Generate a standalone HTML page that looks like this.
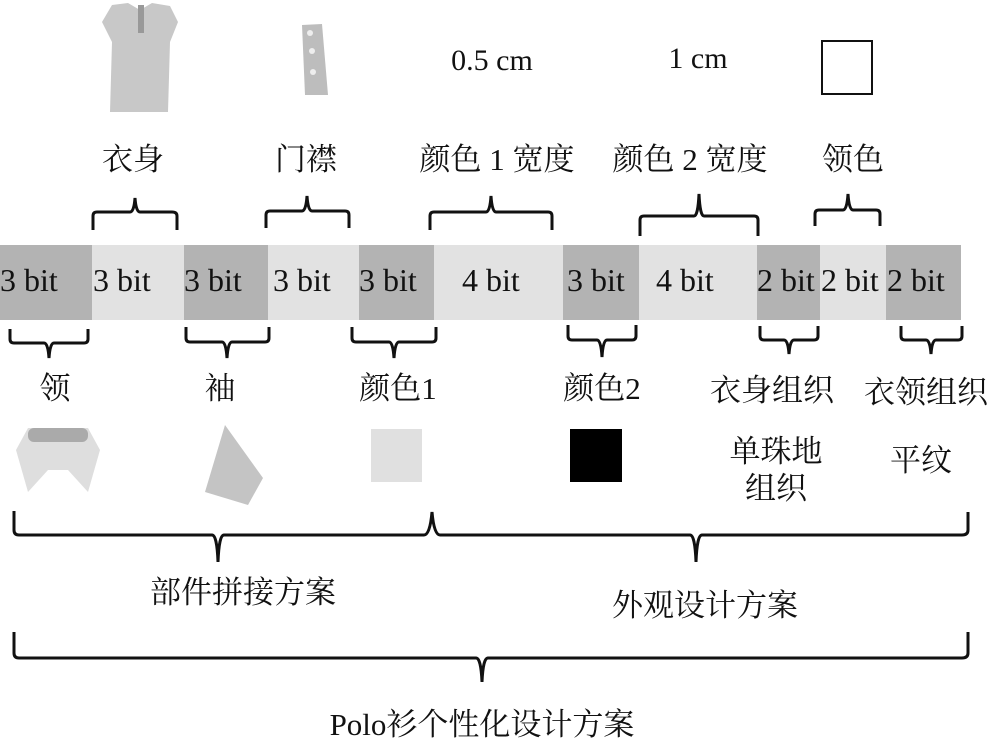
<!DOCTYPE html>
<html><head><meta charset="utf-8"><style>
body{margin:0;background:#fff;}
svg{display:block;}
.s{font-family:"Liberation Serif","Noto Serif CJK SC",serif;fill:#111;}
.c{font-family:"Liberation Serif","Noto Serif CJK SC",serif;fill:#111;}
</style></head><body>
<svg width="1000" height="755" viewBox="0 0 1000 755" xmlns="http://www.w3.org/2000/svg">
<!-- shirt -->
<path d="M112,5 L128,3 L140,10 L152,3 L170,6 L178,22 L170,42 L168,112 L110,112 L112,42 L102,22 Z" fill="#c8c8c8"/>
<rect x="138" y="5" width="6" height="28" fill="#999"/>
<!-- placket -->
<path d="M302,25 L322,24 L328,95 L305,95 Z" fill="#bdbdbd"/>
<circle cx="310" cy="33" r="3" fill="#eee"/><circle cx="312" cy="51" r="3" fill="#eee"/><circle cx="313" cy="72" r="3" fill="#eee"/>
<text x="492" y="70" class="s" font-size="30" text-anchor="middle">0.5 cm</text>
<text x="698" y="68" class="s" font-size="30" text-anchor="middle">1 cm</text>
<rect x="822" y="41" width="50" height="53" fill="#fff" stroke="#111" stroke-width="2"/>
<g class="c" font-size="31" text-anchor="middle">
<text x="133" y="170">衣身</text>
<text x="306" y="170">门襟</text>
<text x="497" y="170">颜色 1 宽度</text>
<text x="690" y="170">颜色 2 宽度</text>
<text x="853" y="170">领色</text>
</g>
<!-- top braces -->
<g fill="none" stroke="#111" stroke-width="3">
<path d="M93,230 V216 Q93,212 97,212 H130 Q134,212 135,198 Q136,212 140,212 H172 Q177,212 177,216 V230"/>
<path d="M266,228 V215 Q266,211 270,211 H302 Q306,211 307,196 Q308,211 312,211 H345 Q349,211 349,215 V228"/>
<path d="M430,230 V216 Q430,212 434,212 H486 Q490,212 491,196 Q492,212 496,212 H548 Q552,212 552,216 V230"/>
<path d="M640,236 V220 Q640,216 644,216 H694 Q698,216 699,194 Q700,216 704,216 H754 Q758,216 758,220 V236"/>
<path d="M815,226 V214 Q815,210 819,210 H843 Q847,210 848,194 Q849,210 853,210 H876 Q880,210 880,214 V226"/>
</g>
<!-- bar -->
<rect x="0" y="245" width="961" height="75" fill="#e2e2e2"/>
<g fill="#b3b3b3">
<rect x="0" y="245" width="92" height="75"/>
<rect x="184" y="245" width="84" height="75"/>
<rect x="359" y="245" width="75" height="75"/>
<rect x="563" y="245" width="76" height="75"/>
<rect x="757" y="245" width="63" height="75"/>
<rect x="886" y="245" width="75" height="75"/>
</g>
<g class="s" font-size="32">
<text x="0" y="291">3 bit</text><text x="93" y="291">3 bit</text><text x="184" y="291">3 bit</text>
<text x="273" y="291">3 bit</text><text x="359" y="291">3 bit</text><text x="462" y="291">4 bit</text>
<text x="567" y="291">3 bit</text><text x="656" y="291">4 bit</text><text x="757" y="291">2 bit</text>
<text x="821" y="291">2 bit</text><text x="887" y="291">2 bit</text>
</g>
<!-- bottom braces -->
<g fill="none" stroke="#111" stroke-width="3">
<path d="M10,329 V339 Q10,343 14,343 H44 Q48,343 49,358 Q50,343 54,343 H84 Q88,343 88,339 V329"/>
<path d="M186,327 V338 Q186,342 190,342 H222 Q226,342 227,358 Q228,342 232,342 H265 Q269,342 269,338 V327"/>
<path d="M352,327 V338 Q352,342 356,342 H389 Q393,342 394,358 Q395,342 399,342 H432 Q436,342 436,338 V327"/>
<path d="M568,325 V336 Q568,340 572,340 H597 Q601,340 602,357 Q603,340 607,340 H632 Q636,340 636,336 V325"/>
<path d="M760,326 V336 Q760,340 764,340 H784 Q788,340 789,354 Q790,340 794,340 H814 Q818,340 818,336 V326"/>
<path d="M901,326 V336 Q901,340 905,340 H926 Q930,340 931,354 Q932,340 936,340 H958 Q962,340 962,336 V326"/>
</g>
<g class="c" font-size="31" text-anchor="middle">
<text x="55" y="399">领</text>
<text x="220" y="399">袖</text>
<text x="398" y="399">颜色1</text>
<text x="602" y="399">颜色2</text>
<text x="772" y="401">衣身组织</text>
<text x="926" y="403">衣领组织</text>
<text x="776" y="462">单珠地</text>
<text x="776" y="499">组织</text>
<text x="921" y="471">平纹</text>
<text x="243" y="603">部件拼接方案</text>
<text x="705" y="616">外观设计方案</text>
<text x="482" y="735">Polo衫个性化设计方案</text>
</g>
<!-- collar -->
<path d="M28,428 L88,428 L100,450 L88,492 L68,470 L48,470 L28,492 L16,450 Z" fill="#dedede"/>
<rect x="28" y="428" width="60" height="14" rx="6" fill="#aaa"/>
<!-- sleeve -->
<path d="M225,425 L263,478 L248,505 L205,492 Z" fill="#c4c4c4"/>
<rect x="371" y="429" width="51" height="53" fill="#e0e0e0"/>
<rect x="570" y="429" width="52" height="53" fill="#000"/>
<!-- braces -->
<g fill="none" stroke="#111" stroke-width="3">
<path d="M14,511 V530 Q14,535 19,535 H212 Q217,535 218,562 Q219,535 224,535 H424 Q430,535 432,512 Q434,535 440,535 H690 Q695,535 696,562 Q697,535 702,535 H962 Q968,535 968,530 V512"/>
<path d="M14,632 V653 Q14,658 19,658 H476 Q481,658 482,682 Q483,658 488,658 H962 Q968,658 968,653 V632"/>
</g>
</svg>
</body></html>
